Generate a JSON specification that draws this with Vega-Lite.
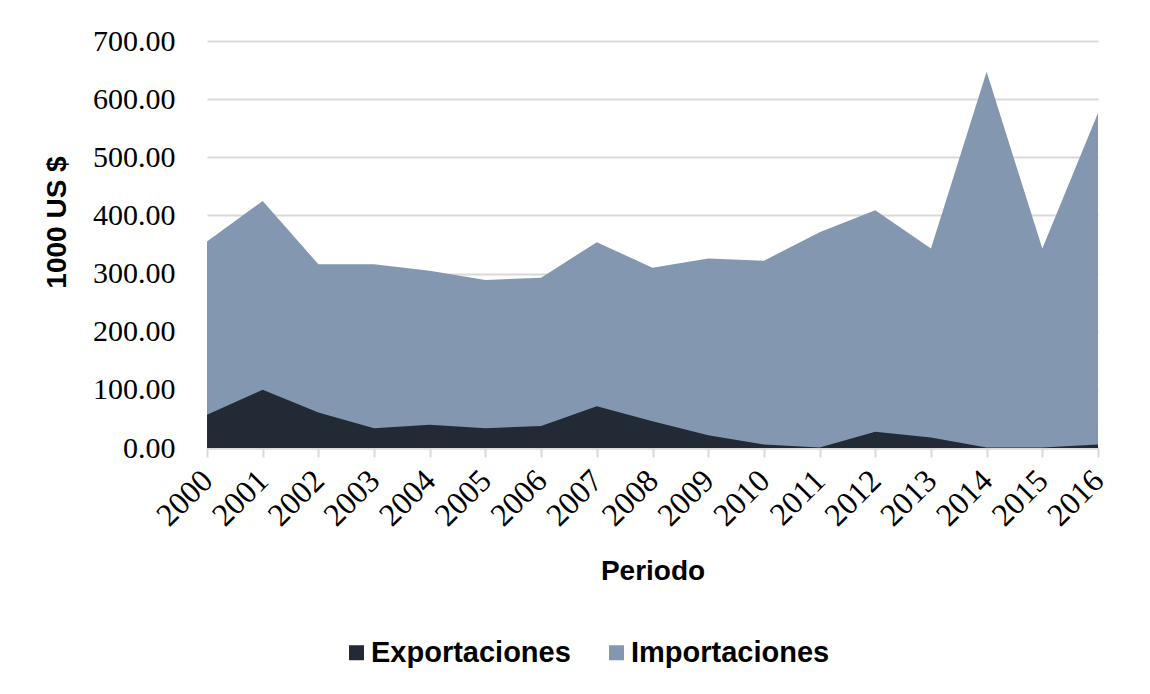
{
  "$schema": "https://vega.github.io/schema/vega-lite/v6.json",
  "width": 891,
  "height": 407,
  "autosize": {"type": "none"},
  "padding": {"left": 207, "top": 41, "right": 52, "bottom": 246},
  "background": "white",
  "config": {
    "view": {"stroke": null},
    "font": "Liberation Sans"
  },
  "data": {
    "values": [
      {"anio": "2000", "serie": "Importaciones", "valor": 355},
      {"anio": "2001", "serie": "Importaciones", "valor": 425},
      {"anio": "2002", "serie": "Importaciones", "valor": 316},
      {"anio": "2003", "serie": "Importaciones", "valor": 316},
      {"anio": "2004", "serie": "Importaciones", "valor": 305},
      {"anio": "2005", "serie": "Importaciones", "valor": 289},
      {"anio": "2006", "serie": "Importaciones", "valor": 293},
      {"anio": "2007", "serie": "Importaciones", "valor": 354},
      {"anio": "2008", "serie": "Importaciones", "valor": 310},
      {"anio": "2009", "serie": "Importaciones", "valor": 326},
      {"anio": "2010", "serie": "Importaciones", "valor": 322},
      {"anio": "2011", "serie": "Importaciones", "valor": 371},
      {"anio": "2012", "serie": "Importaciones", "valor": 409},
      {"anio": "2013", "serie": "Importaciones", "valor": 343},
      {"anio": "2014", "serie": "Importaciones", "valor": 647},
      {"anio": "2015", "serie": "Importaciones", "valor": 343},
      {"anio": "2016", "serie": "Importaciones", "valor": 576},
      {"anio": "2000", "serie": "Exportaciones", "valor": 57},
      {"anio": "2001", "serie": "Exportaciones", "valor": 100},
      {"anio": "2002", "serie": "Exportaciones", "valor": 61},
      {"anio": "2003", "serie": "Exportaciones", "valor": 34},
      {"anio": "2004", "serie": "Exportaciones", "valor": 40},
      {"anio": "2005", "serie": "Exportaciones", "valor": 34},
      {"anio": "2006", "serie": "Exportaciones", "valor": 38},
      {"anio": "2007", "serie": "Exportaciones", "valor": 72},
      {"anio": "2008", "serie": "Exportaciones", "valor": 46},
      {"anio": "2009", "serie": "Exportaciones", "valor": 22},
      {"anio": "2010", "serie": "Exportaciones", "valor": 6},
      {"anio": "2011", "serie": "Exportaciones", "valor": 1},
      {"anio": "2012", "serie": "Exportaciones", "valor": 28},
      {"anio": "2013", "serie": "Exportaciones", "valor": 18},
      {"anio": "2014", "serie": "Exportaciones", "valor": 1},
      {"anio": "2015", "serie": "Exportaciones", "valor": 1},
      {"anio": "2016", "serie": "Exportaciones", "valor": 6}
    ]
  },
  "encoding": {
    "x": {
      "field": "anio",
      "type": "ordinal",
      "scale": {"type": "point", "padding": 0},
      "axis": {
        "title": "Periodo",
        "titleFont": "Liberation Sans",
        "titleFontSize": 28,
        "titleFontWeight": "bold",
        "titleColor": "black",
        "titleBaseline": "alphabetic",
        "titleY": 131,
        "labelFont": "Liberation Serif",
        "labelFontSize": 32,
        "labelColor": "black",
        "labelAngle": -45,
        "labelAlign": "right",
        "labelBaseline": "middle",
        "labelPadding": 18,
        "tickColor": "#D9D9D9",
        "tickWidth": 2,
        "tickSize": 9,
        "domainColor": "#D9D9D9",
        "domainWidth": 2,
        "grid": false
      }
    },
    "y": {
      "field": "valor",
      "type": "quantitative",
      "stack": null,
      "scale": {"domain": [0, 700], "nice": false},
      "axis": {
        "title": "1000 US $",
        "titleFont": "Liberation Sans",
        "titleFontSize": 28,
        "titleFontWeight": "bold",
        "titleColor": "black",
        "titleAngle": -90,
        "titleAlign": "center",
        "titleBaseline": "middle",
        "titleX": -150,
        "titleY": 181,
        "values": [0, 100, 200, 300, 400, 500, 600, 700],
        "format": ".2f",
        "labelFont": "Liberation Serif",
        "labelFontSize": 30,
        "labelColor": "black",
        "labelPadding": 32,
        "ticks": false,
        "tickSize": 0,
        "domain": false,
        "grid": true,
        "gridColor": "#D9D9D9",
        "gridWidth": 2
      }
    },
    "color": {
      "field": "serie",
      "type": "nominal",
      "scale": {
        "domain": ["Exportaciones", "Importaciones"],
        "range": ["#222A35", "#8497B0"]
      },
      "legend": {
        "title": null,
        "orient": "none",
        "direction": "horizontal",
        "legendX": 135,
        "legendY": 597,
        "padding": 0,
        "symbolType": "square",
        "symbolSize": 225,
        "symbolStrokeWidth": 0,
        "symbolOpacity": 1,
        "labelFont": "Liberation Sans",
        "labelFontSize": 29,
        "labelFontWeight": "bold",
        "labelColor": "black",
        "labelOffset": 0,
        "columnPadding": 31,
        "labelLimit": 400
      }
    }
  },
  "layer": [
    {
      "transform": [{"filter": "datum.serie === 'Importaciones'"}],
      "mark": {"type": "area", "opacity": 1}
    },
    {
      "transform": [{"filter": "datum.serie === 'Exportaciones'"}],
      "mark": {"type": "area", "opacity": 1}
    }
  ]
}
